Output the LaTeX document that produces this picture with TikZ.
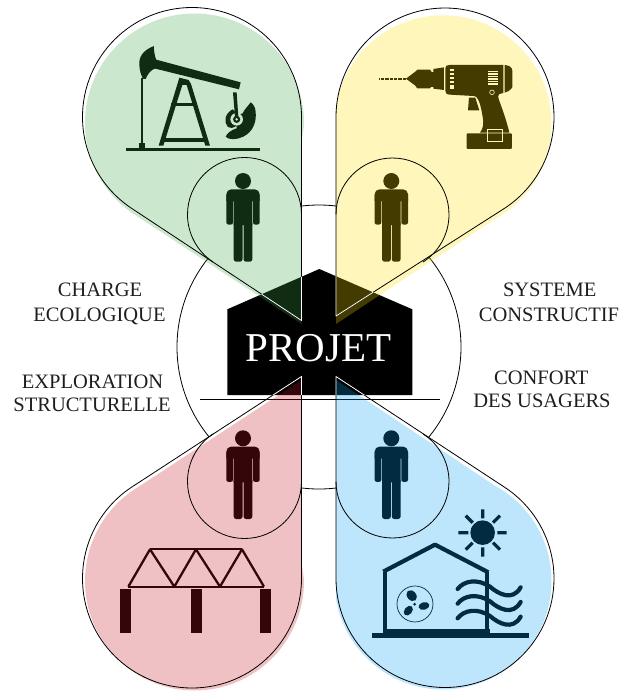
\documentclass[tikz,border=0pt]{standalone}
\usepackage{fontspec}
\setmainfont{Liberation Serif}
\begin{document}
\definecolor{gA}{RGB}{63,165,70}
\definecolor{yA}{RGB}{255,222,0}
\definecolor{rA}{RGB}{202,26,34}
\definecolor{bA}{RGB}{8,161,240}
\definecolor{labelc}{RGB}{30,30,30}
\newcommand\personicon[2]{%
\begin{scope}[shift={(#1,#2)}]
\fill (0,0) circle[radius=8pt];
\fill[rounded corners=5pt] (-16.7,20)--(-16.7,8.3)--(16.7,8.3)--(16.7,20)--cycle;
\fill (-16.7,14)--(-16.7,20)--(-10,20)--(-10,14)--cycle (16.7,14)--(16.7,20)--(10,20)--(10,14)--cycle;
\fill[rounded corners=2pt] (-16.7,15)--(-16.7,43.5)--(-10,43.5)--(-10,15)--cycle;
\fill[rounded corners=2pt] (16.7,15)--(16.7,43.5)--(10,43.5)--(10,15)--cycle;
\fill (-12,9)--(12,9)--(12,20)--(9.3,20)--(9.3,44)--(-9.3,44)--(-9.3,20)--(-12,20)--cycle;
\fill[rounded corners=2.5pt] (-9.3,40)--(-9.3,80.7)--(-0.5,80.7)--(-0.5,40)--cycle;
\fill[rounded corners=2.5pt] (9.3,40)--(9.3,80.7)--(0.5,80.7)--(0.5,40)--cycle;
\end{scope}}
\tikzset{
 outl/.style={line width=0.8pt},
 thin line/.style={line width=0.8pt},
 zoomA/.style={shift={(#1)},x=0.3333pt,y=-0.3333pt},
 tag/.style={font=\fontsize{20.5}{24}\selectfont,text=labelc,inner sep=0pt,anchor=base},
}
\begin{tikzpicture}[x=1pt,y=-1pt]
\useasboundingbox (0,0) rectangle (622,691);
\draw[thin line] (319,347) circle[radius=142pt];
\def\dropG{(301.5,117) arc[start angle=0,end angle=236.6,radius=109.5pt] -- (301.5,320.5) -- cycle}
\def\dropY{(336,117) arc[start angle=180,end angle=-57.4,radius=109pt] -- (336,316) -- cycle}
\def\dropR{(301.5,578.5) arc[start angle=0,end angle=-237,radius=109.5pt] -- (301.5,376.5) -- cycle}
\def\dropB{(336,578.5) arc[start angle=180,end angle=416.8,radius=109pt] -- (336,376.5) -- cycle}
\fill[white] \dropG;
\fill[white] \dropY;
\fill[white] \dropR;
\fill[white] \dropB;
\fill[black] (227.3,395)--(227.3,309.3)--(319.3,269)--(412.3,309.3)--(412.3,395)--cycle;
\node[text=white,font=\fontsize{41}{41}\selectfont,anchor=base,inner sep=0pt] (projet) at (318.5,361.7) {PROJET};
\coordinate (ruleL) at (200,399.5);
\coordinate (ruleR) at (440,399.5);
\draw[thin line] (ruleL) -- (ruleR);
\personicon{243}{181}
\personicon{391.3}{181}
\personicon{243}{438.3}
\personicon{391.3}{438.3}
% pump
\begin{scope}[zoomA={80,0}]
\fill (137,444) rectangle (541,453);
\fill (178,430) rectangle (196,444);
\fill (183,235) rectangle (189,432);
\fill (225,178)--(482,247)--(477,268)--(222,205)--cycle;
\fill (222,138) .. controls (190,150) and (176,170) .. (178,195) .. controls (179,215) and (184,228) .. (190,237) -- (197,237) .. controls (203,222) and (212,210) .. (226,205) -- (229,180) .. controls (224,168) and (221,150) .. (222,138) -- cycle;
\fill (298,233)--(326,240)--(333,252)--(390,437)--(376,437)--(320,255)--(307,255)--(250,437)--(236,437)--(293,250)--cycle;
\fill (272,309) rectangle (350,318);
\fill (245,414) rectangle (380,425);
\fill (458,328) .. controls (435,340) and (430,365) .. (443,380) .. controls (452,386) and (462,384) .. (470,378) -- (470,385) .. controls (455,390) and (442,398) .. (437,410) .. controls (445,420) and (470,420) .. (490,410) .. controls (520,395) and (530,365) .. (527,335) .. controls (526,322) and (520,312) .. (512,307) .. controls (505,318) and (495,325) .. (488,340) -- (475,345) -- cycle;
\fill[white] (470,358) circle[radius=6.3pt];
\fill (470,358) circle[radius=3.6pt];
\fill[white] (470,358) circle[radius=1.4pt];
\fill (459,277)--(470,277)--(475,350)--(465,350)--cycle;
\end{scope}
% drill
\begin{scope}[zoomA={320,0}]
\draw[line width=2pt,dash pattern=on 0.9pt off 0.4pt] (178,236) -- (260,236);
\fill (258,236)--(290,212)--(290,260)--cycle;
\fill[rounded corners=1.5pt] (288,209) rectangle (334,265);
\fill (333,216) rectangle (341,262);
\fill (340,207)--(372,202)--(372,270)--(340,266)--cycle;
\fill (376,205) .. controls (376,198) and (380,195) .. (388,195) -- (550,195) -- (550,279) -- (538,282) .. controls (533,285) and (534,292) .. (537,300) .. controls (550,335) and (562,370) .. (568,398) -- (480,398) .. controls (490,385) and (492,370) .. (488,350) .. controls (484,325) and (478,300) .. (470,292) .. controls (468,289) and (465,289) .. (460,288) -- (390,284) .. controls (380,284) and (376,280) .. (376,272) -- cycle;
\fill (554,195) .. controls (565,196) and (577,200) .. (577,212) -- (577,262) .. controls (570,272) and (562,276) .. (554,278) -- cycle;
\fill (447,293)--(466,293)--(478,331)--(444,331)--cycle;
\fill[rounded corners=1pt] (440,400) rectangle (576,447);
\foreach \yy in {211,223,235,247,259}{\fill[white] (389,\yy-4) rectangle (401,\yy+3);}
\fill[white] (389,262) rectangle (401,268);
\foreach \yy in {213,218,...,253}{\fill[white] (505,\yy) rectangle (534,\yy+2.5);}
\draw[white,line width=0.6pt] (516,277) circle[radius=2.3pt];
\draw[white,line width=0.6pt] (503,388) rectangle (546,423);
\end{scope}
% truss
\begin{scope}[zoomA={80,370}]
\draw[line width=2.3pt,line join=miter] (145,650)--(552,650) (210,538)--(486,538);
\draw[line width=2.3pt,line join=bevel] (145,650)--(210,538)--(283,650)--(348,538)--(420,650)--(486,538)--(552,650);
\fill (120,658) rectangle (153,788);
\fill (334,658) rectangle (367,788);
\fill (541,658) rectangle (574,788);
\end{scope}
% house icon
\begin{scope}[zoomA={320,370}]
\fill (155,790) rectangle (627,803);
\fill (188,778) rectangle (510,803);
\fill (188,605) rectangle (200,785);
\fill (495,605) rectangle (508,785);
\draw[line width=4.2pt,line join=round] (190,605) -- (345,524) -- (505,607);
\draw[line width=0.7pt] (285,702) circle[radius=18pt];
\fill (275,677) ellipse[x radius=4.5pt,y radius=6pt,rotate=40];
\fill (312,708) ellipse[x radius=5.5pt,y radius=3.8pt,rotate=15];
\fill (265,722) ellipse[x radius=3.8pt,y radius=5.5pt,rotate=-40];
\fill (284,703) circle[radius=1.5pt];
\fill (488,488) circle[radius=12.3pt];
\draw[line width=3.2pt] (488,418)--(488,445) (488,532)--(488,560) (415,488)--(445,488) (532,488)--(560,488)
 (437,437)--(458,458) (540,437)--(519,458) (437,539)--(458,518) (540,539)--(519,518);
\foreach \dy in {0,44,88}{
\draw[line width=4.2pt,line cap=round] (413,657+\dy) .. controls (432,632+\dy) and (472,625+\dy) .. (510,650+\dy) .. controls (535,672+\dy) and (578,695+\dy) .. (602,652+\dy);}
\end{scope}
% coloured films
\fill[gA,opacity=.267] (301.7,324) -- (301.7,145) .. controls (301.7,135) and (304,130) .. (304,123) arc[start angle=0,end angle=237.9,radius=109.5pt] -- cycle;
\begin{scope}
\clip (336,0) rectangle (622,400);
\fill[yA,opacity=.267] (336,324) -- (334.5,123.8) arc[start angle=180,end angle=-61.7,radius=108.5pt] -- cycle;
\end{scope}
\fill[rA,opacity=.267] (301.7,380) -- (301.7,560) .. controls (301.7,570) and (304,575) .. (304,581) arc[start angle=0,end angle=-237.9,radius=109.5pt] -- cycle;
\begin{scope}
\clip (336,370) rectangle (622,691);
\fill[bA,opacity=.267] (336,380) -- (334.5,581) arc[start angle=180,end angle=421.7,radius=108.5pt] -- cycle;
\end{scope}
% outlines
\draw[outl,line join=round] \dropG;
\draw[outl,line join=round] \dropY;
\draw[outl,line join=round] \dropR;
\draw[outl,line join=round] \dropB;
\draw[outl] (301.5,214.5) arc[start angle=0,end angle=236.6,radius=57pt];
\draw[outl] (336,214.5) arc[start angle=180,end angle=-57.4,radius=56.5pt];
\draw[outl] (301.5,481.5) arc[start angle=0,end angle=-237,radius=57pt];
\draw[outl] (336,481.5) arc[start angle=180,end angle=416.8,radius=56.5pt];
\begin{scope}
\clip (227.3,395)--(227.3,309.3)--(319.3,269)--(412.3,309.3)--(412.3,395)--cycle;
\draw[outl,white,line join=round] \dropG;
\draw[outl,white,line join=round] \dropY;
\draw[outl,white,line join=round] \dropR;
\draw[outl,white,line join=round] \dropB;
\end{scope}
% labels
\node[tag] (chargeA) at (100,296.7) {CHARGE};
\node[tag] (chargeB) at (99.5,321) {ECOLOGIQUE};
\node[tag] (systA) at (549.7,296.7) {SYSTEME};
\node[tag] (systB) at (549,321) {CONSTRUCTIF};
\node[tag] (exploA) at (92.5,388.3) {EXPLORATION};
\node[tag] (exploB) at (92,411.7) {STRUCTURELLE};
\node[tag] (confA) at (541.3,384.3) {CONFORT};
\node[tag] (confB) at (542,407.7) {DES USAGERS};
\end{tikzpicture}
\end{document}
